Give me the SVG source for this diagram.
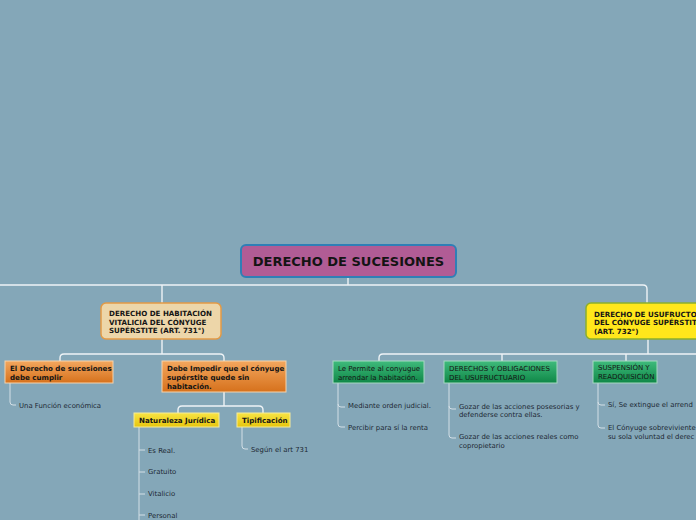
<svg xmlns="http://www.w3.org/2000/svg" width="696" height="520" viewBox="0 0 696 520">
<defs>
<linearGradient id="gOr" x1="0" y1="0" x2="0" y2="1"><stop offset="0" stop-color="#F3A75E"/><stop offset="1" stop-color="#D6711C"/></linearGradient>
<linearGradient id="gGr" x1="0" y1="0" x2="0" y2="1"><stop offset="0" stop-color="#3FBB7C"/><stop offset="1" stop-color="#0F8747"/></linearGradient>
<linearGradient id="gYe" x1="0" y1="0" x2="0" y2="1"><stop offset="0" stop-color="#F8E444"/><stop offset="1" stop-color="#E6C50E"/></linearGradient>
<style>
text{font-family:"DejaVu Sans","Liberation Sans",sans-serif;fill:#141414}
.nb{font-size:7.1px;font-weight:bold}
.nr{font-size:7px}
.lf{font-size:6.9px;fill:#1c2833}
.main{fill:none;stroke:#EEF3F6;stroke-width:1.4}
.leaf{fill:none;stroke:#D3DFE6;stroke-width:1}
.box{stroke:#F6D4AC;stroke-width:1}
</style>
</defs>
<rect width="696" height="520" fill="#84A7B8"/>
<g id="connectors">
<path class="main" d="M348 277V285M0 285H643Q647 285 647 289V303M162 285V303"/>
<path class="main" d="M162 339V354M64 354H220M64 354Q60 354 60 358V361M220 354Q224 354 224 358V361"/>
<path class="main" d="M224 392V406M182 406H259M182 406Q178 406 178 410V413M259 406Q263 406 263 410V413"/>
<path class="main" d="M648 339V354M383 354H696M383 354Q379 354 379 358V361M502 354V361M626 354V361"/>
<path class="leaf" d="M10 383V402Q10 405 13 405H16"/>
<path class="leaf" d="M139 427V520M139 450H145M139 472H145M139 494H145M139 515H145"/>
<path class="leaf" d="M242 427V446Q242 449 245 449H248"/>
<path class="leaf" d="M338 383V424Q338 427 341 427H345M338 404Q338 407 341 407H345"/>
<path class="leaf" d="M449 383V435Q449 438 452 438H456M449 406Q449 409 452 409H456"/>
<path class="leaf" d="M598 383V425Q598 428 601 428H605M598 402Q598 405 601 405H605"/>
</g>
<g id="root">
<rect x="241" y="245" width="215" height="32" rx="5" fill="#B15C95" stroke="#2F7FB6" stroke-width="2"/>
<text x="348.5" y="266" text-anchor="middle" style="font-size:13px;font-weight:bold">DERECHO DE SUCESIONES</text>
</g>
<g id="habitacion">
<rect x="101" y="303" width="120" height="36" rx="5" fill="#EDD6A9" stroke="#E39A45" stroke-width="1.5"/>
<text class="nb" x="109" y="316">DERECHO DE HABITACIÓN</text>
<text class="nb" x="109" y="324.5">VITALICIA DEL CÓNYUGE</text>
<text class="nb" x="109" y="333">SUPÉRSTITE (ART. 731°)</text>
</g>
<g id="cumplir">
<rect class="box" x="5" y="361" width="108" height="22" fill="url(#gOr)"/>
<text class="nb" x="10" y="371">El Derecho de sucesiones</text>
<text class="nb" x="10" y="379.5">debe cumplir</text>
</g>
<g id="funcion"><text class="lf" x="19" y="408">Una Función económica</text></g>
<g id="impedir">
<rect class="box" x="162" y="361" width="124" height="31" fill="url(#gOr)"/>
<text class="nb" x="167" y="371">Debe Impedir que el cónyuge</text>
<text class="nb" x="167" y="379.5">supérstite quede sin</text>
<text class="nb" x="167" y="388.5">habitación.</text>
</g>
<g id="naturaleza">
<rect x="134" y="413" width="85" height="14" fill="url(#gYe)" stroke="#F5EC9A" stroke-width="1"/>
<text class="nb" x="139" y="423">Naturaleza Jurídica</text>
</g>
<g id="tipificacion">
<rect x="237" y="413" width="53" height="14" fill="url(#gYe)" stroke="#F5EC9A" stroke-width="1"/>
<text class="nb" x="242" y="423">Tipificación</text>
</g>
<g id="nat-items">
<text class="lf" x="148" y="452.5">Es Real.</text>
<text class="lf" x="148" y="474">Gratuito</text>
<text class="lf" x="148" y="496">Vitalicio</text>
<text class="lf" x="148" y="517.5">Personal</text>
</g>
<g id="segun"><text class="lf" x="251" y="452">Según el art 731</text></g>
<g id="usufructo">
<rect x="586" y="303" width="130" height="36" rx="5" fill="#FFE71B" stroke="#8BAE2F" stroke-width="1.5"/>
<text class="nb" x="594" y="316.5">DERECHO DE USUFRUCTO</text>
<text class="nb" x="594" y="324.5">DEL CÓNYUGE SUPÉRSTIT</text>
<text class="nb" x="594" y="333.5">(ART. 732°)</text>
</g>
<g id="permite">
<rect x="333" y="361" width="91" height="22" fill="url(#gGr)" stroke="#A6D9C2" stroke-width="1"/>
<text class="nr" x="338" y="371">Le Permite al conyugue</text>
<text class="nr" x="338" y="379.5">arrendar la habitación.</text>
</g>
<g id="permite-items">
<text class="lf" x="348" y="408">Mediante orden judicial.</text>
<text class="lf" x="348" y="430">Percibir para sí la renta</text>
</g>
<g id="derechos">
<rect x="444" y="361" width="113" height="22" fill="url(#gGr)" stroke="#A6D9C2" stroke-width="1"/>
<text class="nr" x="449" y="371">DERECHOS Y OBLIGACIONES</text>
<text class="nr" x="449" y="379.5">DEL USUFRUCTUARIO</text>
</g>
<g id="derechos-items">
<text class="lf" x="459" y="408.5">Gozar de las acciones posesorias y</text>
<text class="lf" x="459" y="417">defenderse contra ellas.</text>
<text class="lf" x="459" y="439">Gozar de las acciones reales como</text>
<text class="lf" x="459" y="447.5">copropietario</text>
</g>
<g id="suspension">
<rect x="593" y="361" width="64" height="22" fill="url(#gGr)" stroke="#A6D9C2" stroke-width="1"/>
<text class="nr" x="598" y="370">SUSPENSIÓN Y</text>
<text class="nr" x="598" y="378.5">READQUISICIÓN</text>
</g>
<g id="suspension-items">
<text class="lf" x="608" y="407">Sí, Se extingue el arrend</text>
<text class="lf" x="608" y="430">El Cónyuge sobreviviente</text>
<text class="lf" x="608" y="439">su sola voluntad el derec</text>
</g>
</svg>
